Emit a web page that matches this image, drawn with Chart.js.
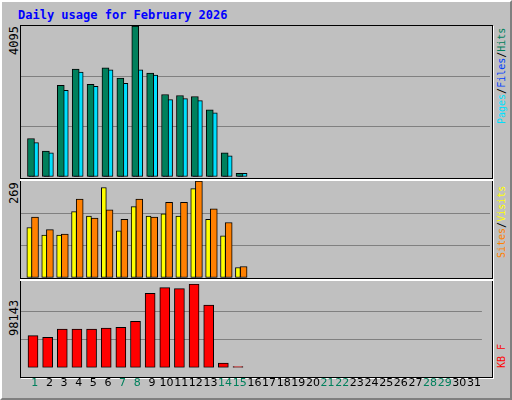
<!DOCTYPE html>
<html><head><meta charset="utf-8">
<script src="https://cdn.jsdelivr.net/npm/chart.js@4"></script>
<style>
html,body{margin:0;padding:0;background:#C0C0C0;}
#wrap{position:relative;width:512px;height:400px;background:#C0C0C0;box-sizing:border-box;border-top:2px solid #fff;border-left:2px solid #fff;border-right:2px solid #808080;border-bottom:2px solid #808080;overflow:hidden;}
.abs{position:absolute;}
.frame{position:absolute;left:18px;width:471px;border:1px solid #000;box-shadow:1px 1px 0 #fff;}
.sep{position:absolute;left:18px;width:473px;height:1px;background:#000;border-bottom:2px solid #fff;}
#title{left:16px;top:6px;font:bold 12px "DejaVu Sans Mono",monospace;color:#0000FF;}
.rot{position:absolute;transform:rotate(-90deg);transform-origin:left top;white-space:nowrap;font:12px "DejaVu Sans Mono",monospace;}
.rl{font-size:10px;}
canvas{position:absolute;}
</style></head><body>
<div id="wrap">
<div id="title" class="abs">Daily usage for February 2026</div>
<div class="frame" style="top:23px;height:351px"></div>
<div class="sep" style="top:176px"></div>
<div class="sep" style="top:276px"></div>
<div class="rot" style="left:5px;top:53px;color:#000">4095</div>
<div class="rot" style="left:5px;top:202px;color:#000">269</div>
<div class="rot" style="left:5px;top:334px;color:#000">98143</div>
<div class="rot rl" style="left:494px;top:122px"><span style="color:#00E0FF">Pages</span><span style="color:#000">/</span><span style="color:#0040FF">Files</span><span style="color:#000">/</span><span style="color:#00805C">Hits</span></div>
<div class="rot rl" style="left:494px;top:256px"><span style="color:#FF8000">Sites</span><span style="color:#000">/</span><span style="color:#FFFF00">Visits</span></div>
<div class="rot rl" style="left:494px;top:366px"><span style="color:#FF0000">KB F</span></div>
<canvas id="c1" width="469" height="151" style="left:19px;top:24px"></canvas>
<canvas id="c2" width="469" height="97" style="left:19px;top:179px"></canvas>
<canvas id="c3" width="469" height="115" style="left:19px;top:282px"></canvas>
</div>
<script>
const days = Array.from({length:31},(_,i)=>i+1);
const weekendDays = [1,7,8,14,15,21,22,28,29];
const hits  = [1045,703,2487,2930,2514,2958,2681,4095,2819,2237,2209,2182,1821,656,102];
const files = [934,656,2348,2847,2459,2903,2542,2903,2764,2098,2126,2071,1738,573,102];
const pages = [518,490,601,573,850,878,823,961,1350,1488,1211,1322,989,129,5];
const sites  = [140,119,119,184,172,251,131,198,172,178,172,248,163,117,29];
const visits = [169,134,122,219,166,189,163,219,169,210,210,269,192,154,32];
const kbytes = [37747,35590,45296,45296,45296,46375,47453,54284,87356,93827,92748,98143,73336,5392,1438];
const maxTop=4095, maxMid=269, maxBot=98143;

function pts(arr,off){return arr.map((v,i)=>({x:days[i]+off,y:v}));}
function ds(arr,off,color,w,bw){return {data:pts(arr,off),backgroundColor:color,borderColor:'#000',borderWidth:bw===undefined?1:bw,barThickness:w,grouped:false,borderSkipped:false};}
function gridColor(max){return ctx=>{const v=ctx.tick.value;return (v<=0||v>=max-1)?'rgba(0,0,0,0)':'#808080';};}
function opts(max,showX){
  return {responsive:false,animation:false,events:[],
    layout:{padding:0},
    plugins:{legend:{display:false},tooltip:{enabled:false}},
    scales:{
      x:{type:'linear',min:0.06,max:31.54,offset:false,
        grid:{display:false,drawTicks:false},border:{display:false},
        afterBuildTicks:a=>{a.ticks=days.map(d=>({value:d}));},
        ticks:{display:showX,autoSkip:false,maxRotation:0,padding:9,
          font:{family:'DejaVu Sans',size:11},
          color:c=>weekendDays.includes(c.tick.value)?'#00805C':'#000',
          callback:v=>String(v)}},
      y:{min:0,max:max,
        afterBuildTicks:a=>{a.ticks=[0,max/3,2*max/3,max].map(v=>({value:v}));},
        ticks:{display:false},border:{display:false},
        grid:{drawTicks:false,color:gridColor(max),lineWidth:1}}
    }};
}
new Chart(document.getElementById('c1'),{type:'bar',data:{datasets:[
  ds(hits,-0.27,'#00805C',7),
  ds(files,0,'#00E0FF',7),
  ds(pages,-0.33,'#0040FF',2,0.5)
]},options:opts(maxTop,false)});
new Chart(document.getElementById('c2'),{type:'bar',data:{datasets:[
  ds(sites,-0.38,'#FFFF00',5),
  ds(visits,0,'#FF8000',7)
]},options:opts(maxMid,false)});
new Chart(document.getElementById('c3'),{type:'bar',data:{datasets:[
  ds(kbytes,-0.12,'#FF0000',10)
]},options:opts(maxBot,true)});
</script>
</body></html>
